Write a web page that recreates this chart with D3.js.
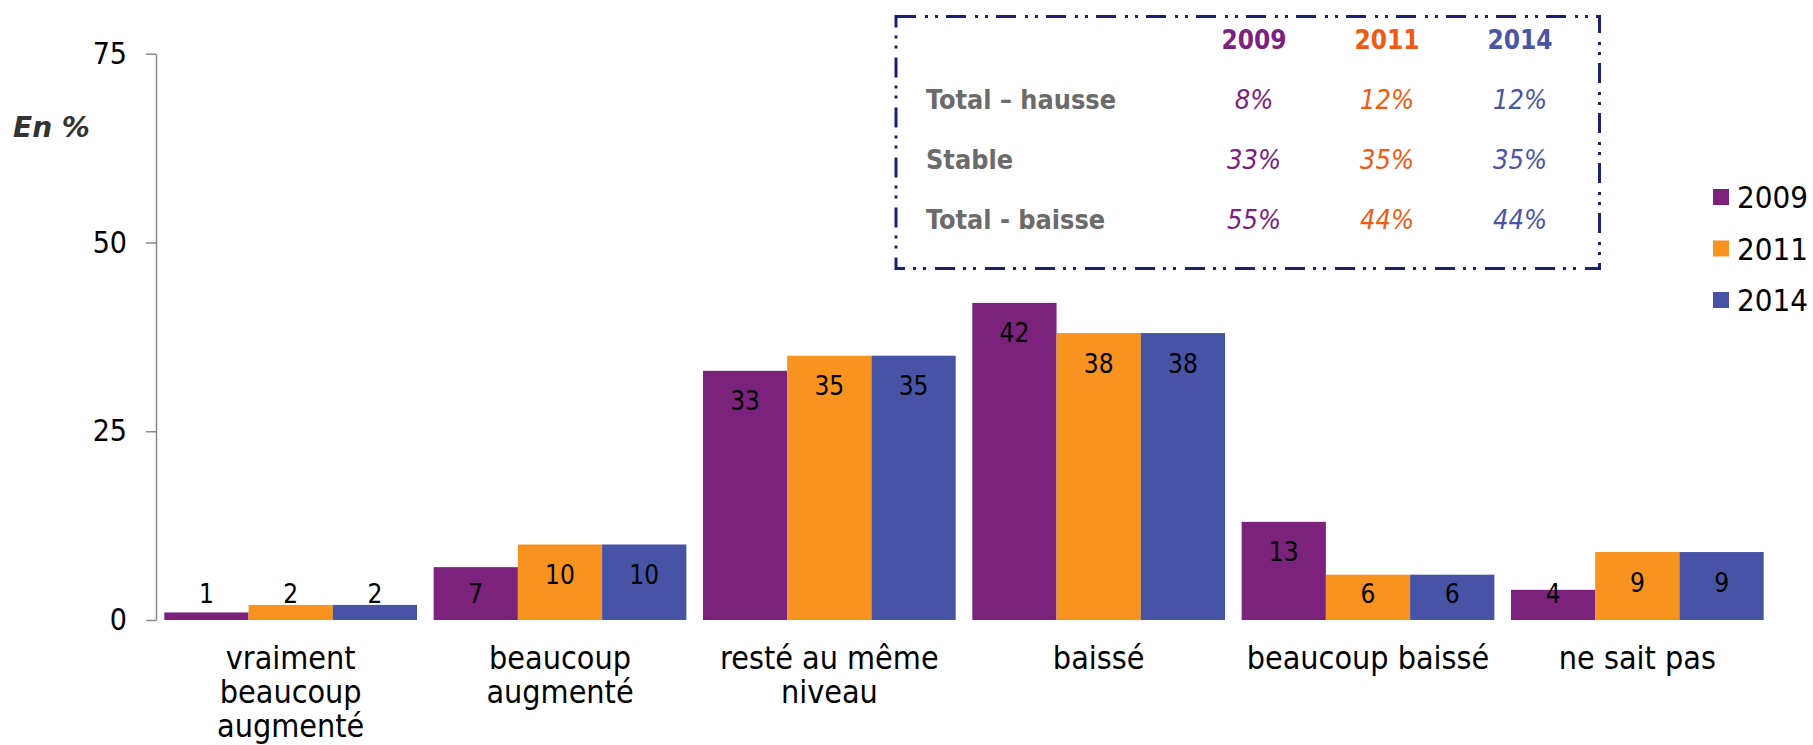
<!DOCTYPE html>
<html><head><meta charset="utf-8">
<script src="https://cdn.jsdelivr.net/npm/d3@7"></script>
<style>
html,body{margin:0;padding:0;background:#fff;}
svg{display:block;}
</style></head>
<body>
<svg id="chart" width="1813" height="745"></svg>
<script>
const categories = ["vraiment beaucoup augmenté", "beaucoup augmenté", "resté au même niveau", "baissé", "beaucoup baissé", "ne sait pas"];
const years = ["2009", "2011", "2014"];
const values2009 = [1, 7, 33, 42, 13, 4];
const values2011 = [2, 10, 35, 38, 6, 9];
const values2014 = [2, 10, 35, 38, 6, 9];
const yTicks = [0, 25, 50, 75];
const tableRows = ["Total – hausse", "Stable", "Total - baisse"];
const table2009 = ["8%", "33%", "55%"];
const table2011 = ["12%", "35%", "44%"];
const table2014 = ["12%", "35%", "44%"];

const barColors = {"2009": "#7B227D", "2011": "#F7931E", "2014": "#4754A5"};
const tableColors = {"2009": "#7B2281", "2011": "#F05A14", "2014": "#4A55A6"};
const seriesValues = {"2009": values2009, "2011": values2011, "2014": values2014};
const tableValues = {"2009": table2009, "2011": table2011, "2014": table2014};

const svg = d3.select("#chart");
const FONT = "'DejaVu Sans Condensed', 'DejaVu Sans', sans-serif";

const x0 = d3.scaleBand().domain(categories).range([156, 1772]).paddingInner(0.0616).paddingOuter(0.0308);
const x1 = d3.scaleBand().domain(years).range([0, x0.bandwidth()]);
const y = d3.scaleLinear().domain([0, 75]).range([620, 53.7]);

// axis
const axis = svg.append("g").attr("transform", "translate(156,0)")
  .call(d3.axisLeft(y).tickValues(yTicks).tickSize(10).tickSizeOuter(0).tickPadding(19));
axis.select(".domain").attr("stroke", "#888").attr("stroke-width", 1.5);
axis.selectAll(".tick line").attr("stroke", "#888").attr("stroke-width", 1.5);
axis.selectAll(".tick text").attr("font-family", FONT).attr("font-size", 30).attr("fill", "#000");

// En %
svg.append("text").attr("x", 13).attr("y", 137).attr("font-family", "'DejaVu Sans', sans-serif")
  .attr("font-weight", "bold").attr("font-style", "italic").attr("font-size", 28).attr("fill", "#333").text("En %");

// bars
const data = [];
categories.forEach((c, i) => years.forEach(yr => data.push({cat: c, year: yr, v: seriesValues[yr][i]})));

const g = svg.append("g");
g.selectAll("rect").data(data).join("rect")
  .attr("x", d => x0(d.cat) + x1(d.year))
  .attr("y", d => y(d.v))
  .attr("width", x1.bandwidth())
  .attr("height", d => y(0) - y(d.v))
  .attr("fill", d => barColors[d.year]);

g.selectAll("text.lbl").data(data).join("text").attr("class", "lbl")
  .attr("x", d => x0(d.cat) + x1(d.year) + x1.bandwidth() / 2)
  .attr("y", d => Math.min(y(d.v) + 30, 593) + 9.5)
  .attr("text-anchor", "middle").attr("font-family", FONT).attr("font-size", 26).attr("fill", "#000")
  .text(d => d.v);

// category labels with wrap
const catG = svg.append("g");
categories.forEach(c => {
  const t = catG.append("text").attr("x", x0(c) + x0.bandwidth() / 2).attr("y", 669)
    .attr("text-anchor", "middle").attr("font-family", FONT).attr("font-size", 32).attr("fill", "#000");
  const words = c.split(" ");
  let line = [];
  let tspan = t.append("tspan").attr("x", x0(c) + x0.bandwidth() / 2).attr("dy", 0);
  words.forEach(w => {
    line.push(w);
    tspan.text(line.join(" "));
    if (tspan.node().getComputedTextLength() > 260 && line.length > 1) {
      line.pop();
      tspan.text(line.join(" "));
      line = [w];
      tspan = t.append("tspan").attr("x", x0(c) + x0.bandwidth() / 2).attr("dy", 34).text(w);
    }
  });
});

// legend
const leg = svg.append("g");
const legY = d3.scalePoint().domain(years).range([197, 300]);
years.forEach(yr => {
  leg.append("rect").attr("x", 1713).attr("y", legY(yr) - 8).attr("width", 16).attr("height", 16).attr("fill", barColors[yr]);
  leg.append("text").attr("x", 1737).attr("y", legY(yr) + 11.3).attr("font-family", FONT).attr("font-size", 31).attr("fill", "#000").text(yr);
});

// table box
const box = svg.append("g");
box.append("rect").attr("x", 896).attr("y", 16.5).attr("width", 703.5).attr("height", 252)
  .attr("fill", "none").attr("stroke", "#1B2170").attr("stroke-width", 3)
  .attr("stroke-dasharray", "20,9,3,7,3,8");

const colX = d3.scalePoint().domain(years).range([1254, 1520]);
const rowY = d3.scalePoint().domain(["head"].concat(tableRows)).range([49.3, 229.3]);
years.forEach(yr => {
  box.append("text").attr("x", colX(yr)).attr("y", rowY("head")).attr("text-anchor", "middle")
    .attr("font-family", FONT).attr("font-weight", "bold").attr("font-size", 26).attr("fill", tableColors[yr]).text(yr);
  tableRows.forEach((r, i) => {
    box.append("text").attr("x", colX(yr)).attr("y", rowY(r)).attr("text-anchor", "middle")
      .attr("font-family", FONT).attr("font-style", "italic").attr("font-size", 27).attr("fill", tableColors[yr]).text(tableValues[yr][i]);
  });
});
tableRows.forEach(r => {
  box.append("text").attr("x", 926).attr("y", rowY(r)).attr("font-family", FONT).attr("font-weight", "bold")
    .attr("font-size", 26.8).attr("fill", "#6B6B6B").text(r);
});
</script>
</body></html>
